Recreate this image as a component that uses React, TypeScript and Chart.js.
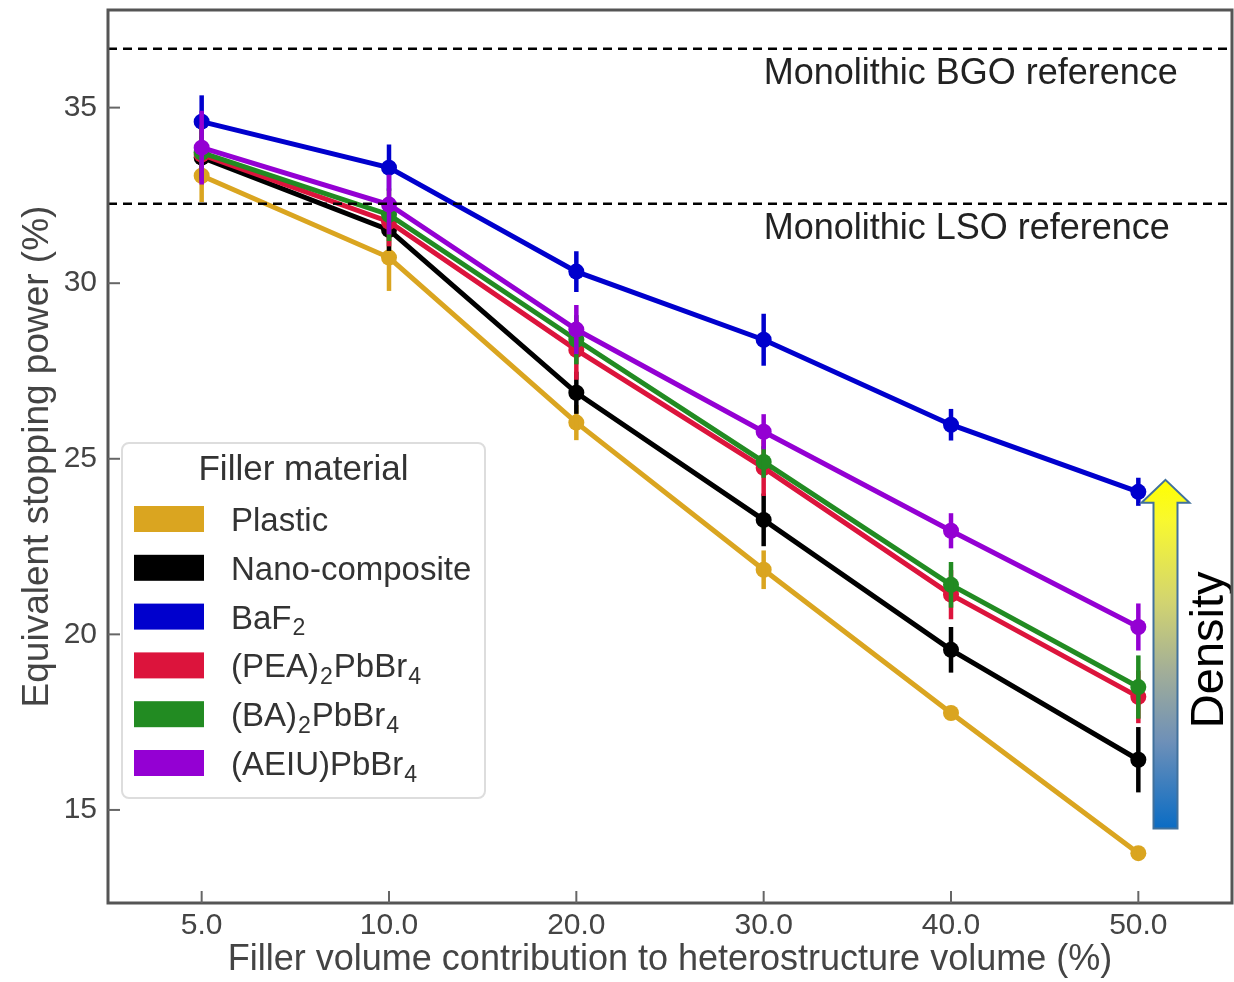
import React, { useEffect, useRef } from "react";
import { Chart, registerables } from "chart.js";

Chart.register(...registerables);

// ---------------- data ----------------
const categories = ["5.0", "10.0", "20.0", "30.0", "40.0", "50.0"];
const seriesNames = ["Plastic", "Nano-composite", "BaF₂", "(PEA)₂PbBr₄", "(BA)₂PbBr₄", "(AEIU)PbBr₄"];
const seriesColors = ["#DAA520", "#000000", "#0000CD", "#DC143C", "#228B22", "#9400D3"];

const plasticValues = [33.06, 30.73, 26.03, 21.84, 17.76, 13.77];
const plasticErrors = [0.75, 0.95, 0.5, 0.55, 0.2, 0.15];
const nanoValues = [33.58, 31.52, 26.88, 23.26, 19.56, 16.43];
const nanoErrors = [0.6, 0.6, 0.6, 0.75, 0.65, 0.93];
const baf2Values = [34.6, 33.29, 30.33, 28.39, 25.97, 24.06];
const baf2Errors = [0.75, 0.66, 0.58, 0.74, 0.45, 0.4];
const peaValues = [33.66, 31.75, 28.1, 24.74, 21.13, 18.22];
const peaErrors = [0.8, 0.7, 0.85, 0.8, 0.7, 0.75];
const baValues = [33.72, 31.95, 28.39, 24.91, 21.41, 18.5];
const baErrors = [0.8, 0.75, 0.7, 0.45, 0.65, 0.9];
const aeiuValues = [33.86, 32.24, 28.68, 25.77, 22.95, 20.21];
const aeiuErrors = [1.05, 0.85, 0.7, 0.5, 0.5, 0.67];

const seriesValues = [plasticValues, nanoValues, baf2Values, peaValues, baValues, aeiuValues];
const seriesErrors = [plasticErrors, nanoErrors, baf2Errors, peaErrors, baErrors, aeiuErrors];

const yTicks = [15, 20, 25, 30, 35];
const Y_MIN = 12.35;
const Y_MAX = 37.78;

const refValues = [36.68, 32.26];
const refLabels = ["Monolithic BGO reference", "Monolithic LSO reference"];
const REF_LABEL_X = 3; // category index where the reference labels start

const legendTitle = "Filler material";
const xTitle = "Filler volume contribution to heterostructure volume (%)";
const yTitle = "Equivalent stopping power (%)";

const densityLabel = "Density";
const ARROW_X = 5.145;
const ARROW_BOTTOM = 14.47;
const ARROW_TOP = 24.4;
const DENSITY_X = 5.385;
const DENSITY_Y = 19.56;

// ---------------- helpers ----------------
const FONT = "'Liberation Sans', Arial, sans-serif";
const SUBS: Record<string, string> = { "₀": "0", "₁": "1", "₂": "2", "₃": "3", "₄": "4", "₅": "5", "₆": "6", "₇": "7", "₈": "8", "₉": "9" };

function drawRich(ctx: CanvasRenderingContext2D, text: string, x: number, y: number, size: number) {
  let cx = x;
  ctx.textAlign = "left";
  ctx.textBaseline = "alphabetic";
  for (const ch of Array.from(text)) {
    if (SUBS[ch]) {
      const s = size * 0.7;
      ctx.font = `${s}px ${FONT}`;
      ctx.fillText(SUBS[ch], cx + 1, y + size * 0.2);
      cx += ctx.measureText(SUBS[ch]).width + 2;
    } else {
      ctx.font = `${size}px ${FONT}`;
      ctx.fillText(ch, cx, y);
      cx += ctx.measureText(ch).width;
    }
  }
}

const errorBarPlugin = {
  id: "errorBars",
  afterDatasetDraw(chart: any, args: any) {
    const i = args.index;
    const meta = args.meta;
    const ds = chart.data.datasets[i];
    const errs = seriesErrors[i];
    const ys = chart.scales.y;
    const ctx = chart.ctx;
    ctx.save();
    ctx.strokeStyle = ds.borderColor;
    ctx.lineWidth = 4.5;
    meta.data.forEach((pt: any, j: number) => {
      const v = ds.data[j];
      const e = errs[j];
      ctx.beginPath();
      ctx.moveTo(pt.x, ys.getPixelForValue(v + e));
      ctx.lineTo(pt.x, ys.getPixelForValue(v - e));
      ctx.stroke();
    });
    ctx.restore();
  },
};

const decorPlugin = {
  id: "decor",
  afterDatasetsDraw(chart: any) {
    const ctx = chart.ctx;
    const ca = chart.chartArea;
    const xs = chart.scales.x;
    const ys = chart.scales.y;
    // reference lines
    ctx.save();
    ctx.strokeStyle = "#000";
    ctx.lineWidth = 2.5;
    ctx.setLineDash([9, 6]);
    refValues.forEach((v) => {
      const py = ys.getPixelForValue(v);
      ctx.beginPath();
      ctx.moveTo(ca.left, py);
      ctx.lineTo(ca.right, py);
      ctx.stroke();
    });
    ctx.setLineDash([]);
    ctx.fillStyle = "#222";
    ctx.font = `36px ${FONT}`;
    ctx.textAlign = "left";
    ctx.textBaseline = "middle";
    refValues.forEach((v, k) => {
      const py = ys.getPixelForValue(v);
      ctx.fillText(refLabels[k], xs.getPixelForValue(REF_LABEL_X), py + 25);
    });
    ctx.restore();
  },
  afterDraw(chart: any) {
    const ctx = chart.ctx;
    const ca = chart.chartArea;
    const xs = chart.scales.x;
    const ys = chart.scales.y;
    ctx.save();

    // density arrow
    const ax = xs.getPixelForValue(ARROW_X);
    const at = ys.getPixelForValue(ARROW_TOP);
    const ab = ys.getPixelForValue(ARROW_BOTTOM);
    const sw = 12, hw = 24, hh = 23;
    const grad = ctx.createLinearGradient(0, at, 0, ab);
    grad.addColorStop(0, "#FFFF00");
    grad.addColorStop(0.12, "#F8F830");
    grad.addColorStop(0.35, "#D2D470");
    grad.addColorStop(0.55, "#A2AE98");
    grad.addColorStop(0.75, "#6E90B8");
    grad.addColorStop(1, "#0A6CC4");
    ctx.beginPath();
    ctx.moveTo(ax, at);
    ctx.lineTo(ax + hw, at + hh);
    ctx.lineTo(ax + sw, at + hh);
    ctx.lineTo(ax + sw, ab);
    ctx.lineTo(ax - sw, ab);
    ctx.lineTo(ax - sw, at + hh);
    ctx.lineTo(ax - hw, at + hh);
    ctx.closePath();
    ctx.fillStyle = grad;
    ctx.fill();
    ctx.strokeStyle = "#41719C";
    ctx.lineWidth = 2;
    ctx.stroke();

    // density label
    ctx.save();
    ctx.translate(xs.getPixelForValue(DENSITY_X), ys.getPixelForValue(DENSITY_Y));
    ctx.rotate(-Math.PI / 2);
    ctx.fillStyle = "#000";
    ctx.font = `47px ${FONT}`;
    ctx.textAlign = "center";
    ctx.textBaseline = "middle";
    ctx.fillText(densityLabel, 0, 0);
    ctx.restore();

    // legend
    const bx = ca.left + 14;
    const by = ca.bottom - 460;
    const bw = 363;
    const bh = 355;
    ctx.beginPath();
    (ctx as any).roundRect(bx, by, bw, bh, 7);
    ctx.fillStyle = "rgba(255,255,255,0.85)";
    ctx.fill();
    ctx.strokeStyle = "#DDDDDD";
    ctx.lineWidth = 2;
    ctx.stroke();
    ctx.fillStyle = "#333";
    ctx.font = `35px ${FONT}`;
    ctx.textAlign = "center";
    ctx.textBaseline = "middle";
    ctx.fillText(legendTitle, bx + bw / 2, by + 27);
    chart.data.datasets.forEach((ds: any, k: number) => {
      const cy = by + 76 + k * 48.8;
      ctx.fillStyle = ds.borderColor;
      ctx.fillRect(bx + 12, cy - 13, 70, 26);
      ctx.fillStyle = "#333";
      drawRich(ctx, ds.label, bx + 109, cy + 12, 33);
    });

    // frame
    ctx.strokeStyle = "#555";
    ctx.lineWidth = 3;
    ctx.strokeRect(ca.left, ca.top, ca.right - ca.left, ca.bottom - ca.top);

    // inward ticks
    ctx.strokeStyle = "#666";
    ctx.lineWidth = 2;
    ys.ticks.forEach((t: any) => {
      const py = ys.getPixelForValue(t.value);
      ctx.beginPath();
      ctx.moveTo(ca.left, py);
      ctx.lineTo(ca.left + 12, py);
      ctx.stroke();
    });
    categories.forEach((_, k) => {
      const px = xs.getPixelForValue(k);
      ctx.beginPath();
      ctx.moveTo(px, ca.bottom);
      ctx.lineTo(px, ca.bottom - 12);
      ctx.stroke();
    });
    ctx.restore();
  },
};

export default function App() {
  const canvasRef = useRef<HTMLCanvasElement | null>(null);

  useEffect(() => {
    if (!canvasRef.current) return;
    const datasets = seriesNames.map((name, i) => ({
      label: name,
      data: seriesValues[i],
      borderColor: seriesColors[i],
      backgroundColor: seriesColors[i],
      pointBackgroundColor: seriesColors[i],
      pointBorderWidth: 0,
      pointRadius: 8,
      borderWidth: 5,
      tension: 0,
      fill: false,
      order: seriesNames.length - 1 - i,
    }));
    const chart = new Chart(canvasRef.current, {
      type: "line",
      data: { labels: categories, datasets },
      options: {
        responsive: false,
        animation: false,
        layout: { autoPadding: false, padding: { top: 10, right: 2, left: 0, bottom: 0 } },
        plugins: { legend: { display: false }, tooltip: { enabled: false } },
        scales: {
          x: {
            type: "category",
            offset: true,
            grid: { display: false, drawTicks: false },
            border: { display: false },
            ticks: { color: "#444", font: { family: FONT, size: 30 }, padding: 5, maxRotation: 0 },
            title: { display: true, text: xTitle, color: "#444", font: { family: FONT, size: 36 }, padding: { top: 0, bottom: 0 } },
            afterFit: (s: any) => { s.height = 79; s.paddingLeft = 0; s.paddingRight = 0; },
          },
          y: {
            type: "linear",
            min: Y_MIN,
            max: Y_MAX,
            grid: { display: false, drawTicks: false },
            border: { display: false },
            ticks: { color: "#444", font: { family: FONT, size: 30 }, padding: 11 },
            afterBuildTicks: (s: any) => { s.ticks = yTicks.map((v) => ({ value: v })); },
            title: { display: true, text: yTitle, color: "#444", font: { family: FONT, size: 37 }, padding: { top: 16, bottom: 0 } },
            afterFit: (s: any) => { s.width = 108; s.paddingTop = 0; s.paddingBottom = 0; },
          },
        },
      },
      plugins: [errorBarPlugin, decorPlugin],
    } as any);
    return () => chart.destroy();
  }, []);

  return (
    <div style={{ position: "absolute", left: 0, top: 0, width: 1234, height: 982, background: "#fff" }}>
      <canvas ref={canvasRef} width={1234} height={982} />
    </div>
  );
}
